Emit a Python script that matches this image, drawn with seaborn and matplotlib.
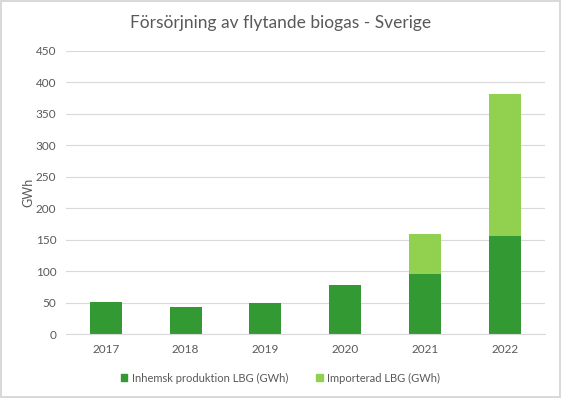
import pandas as pd
import numpy as np
import matplotlib
matplotlib.use('Agg')
import matplotlib.pyplot as plt
import seaborn as sns
from matplotlib.patches import Patch

# data
years = ['2017', '2018', '2019', '2020', '2021', '2022']
inhemsk = [51, 43, 50, 78, 95, 156]
importerad = [0, 0, 0, 0, 64, 226]

df = pd.DataFrame({'year': years, 'inhemsk': inhemsk, 'importerad': importerad})
df['total'] = df['inhemsk'] + df['importerad']

dark = '#339933'
light = '#92D050'
txt = '#595959'

sns.set_style('white')
plt.rcParams['font.family'] = ['Lato', 'DejaVu Sans']

fig = plt.figure(figsize=(5.61, 3.98), dpi=100)
fig.patch.set_edgecolor('#d9d9d9')
fig.patch.set_linewidth(1.5)
ax = fig.add_axes([0.1176, 0.1608, 0.8534, 0.7111])

# stacked: total in light green, domestic drawn over it
sns.barplot(data=df, x='year', y='total', color=light, width=0.4, saturation=1,
            linewidth=0, ax=ax)
sns.barplot(data=df, x='year', y='inhemsk', color=dark, width=0.4, saturation=1,
            linewidth=0, ax=ax)

ax.set_ylim(0, 450)
ax.set_yticks(np.arange(0, 451, 50))
ax.yaxis.grid(True, color='#d9d9d9', linewidth=0.8)
ax.set_axisbelow(True)
for s in ['top', 'right', 'left']:
    ax.spines[s].set_visible(False)
ax.spines['bottom'].set_color('#d9d9d9')
ax.tick_params(axis='both', length=0, colors=txt, labelsize=8.5, pad=7)
ax.set_xlabel('')
ax.set_ylabel('GWh', color=txt, fontsize=9, labelpad=1)

fig.text(0.5, 0.943, 'Försörjning av flytande biogas - Sverige', ha='center', va='center',
         fontsize=12.5, color=txt)

handles = [Patch(color=dark, label='Inhemsk produktion LBG (GWh)'),
           Patch(color=light, label='Importerad LBG (GWh)')]
leg = fig.legend(handles=handles, loc='center', bbox_to_anchor=(0.5, 0.05), ncol=2,
                 frameon=False, fontsize=8, handlelength=0.6, handleheight=0.6,
                 handletextpad=0.4, columnspacing=2.5)
for t in leg.get_texts():
    t.set_color(txt)

fig.savefig('out.png', dpi=100)
